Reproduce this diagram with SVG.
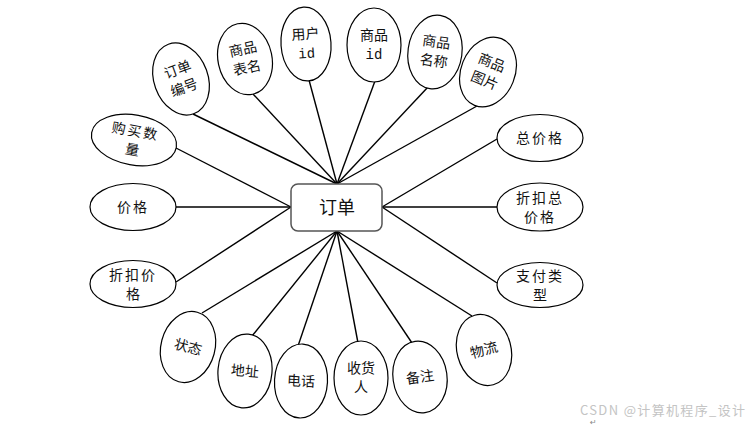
<svg xmlns="http://www.w3.org/2000/svg" width="751" height="426" viewBox="0 0 751 426">
<style>
.e{fill:#fff;stroke:#000;stroke-width:1.2}
.t{font-family:"Noto Sans CJK SC","Noto Sans",sans-serif;font-size:14px;fill:#111;text-anchor:middle}
.s{letter-spacing:2px}
.m{font-family:"Liberation Mono",monospace;font-size:14px;fill:#111;text-anchor:middle}
.c line{stroke:#000;stroke-width:1.4}
</style>
<rect width="751" height="426" fill="#fff"/>
<g class="c" id="connectors">
<line x1="193" y1="114" x2="337" y2="184"/>
<line x1="253" y1="94" x2="337" y2="184"/>
<line x1="309" y1="80" x2="337" y2="184"/>
<line x1="375" y1="81" x2="337" y2="184"/>
<line x1="428" y1="87" x2="337" y2="184"/>
<line x1="477" y1="106" x2="337" y2="184"/>
<line x1="176" y1="148" x2="291" y2="207"/>
<line x1="176" y1="207" x2="291" y2="207"/>
<line x1="176" y1="282" x2="291" y2="207"/>
<line x1="202" y1="313" x2="337" y2="231"/>
<line x1="252" y1="336" x2="337" y2="231"/>
<line x1="298" y1="346" x2="337" y2="231"/>
<line x1="358" y1="343" x2="337" y2="231"/>
<line x1="412" y1="343" x2="337" y2="231"/>
<line x1="472" y1="316" x2="337" y2="231"/>
<line x1="497" y1="139" x2="382" y2="207"/>
<line x1="497" y1="207" x2="382" y2="207"/>
<line x1="497" y1="283" x2="382" y2="207"/>
</g>
<g id="center">
<rect x="291" y="184" width="91" height="47" rx="7" fill="#fff" stroke="#555" stroke-width="1.5"/>
<text x="337" y="214" font-family="'Noto Sans CJK SC',sans-serif" font-size="18" text-anchor="middle" fill="#111">订单</text>
</g>
<g id="n1" transform="translate(181,79) rotate(-20)"><ellipse class="e" rx="27" ry="37"/><text class="t" y="-5">订单</text><text class="t" y="14">编号</text></g>
<g id="n2" transform="translate(245,59) rotate(-12)"><ellipse class="e" rx="27" ry="36"/><text class="t" y="-5">商品</text><text class="t" y="14">表名</text></g>
<g id="n3" transform="translate(306,44) rotate(-4)"><ellipse class="e" rx="25" ry="37"/><text class="t" y="-5">用户</text><text class="m" y="14">id</text></g>
<g id="n4" transform="translate(374,45)"><ellipse class="e" rx="27" ry="37"/><text class="t" y="-5">商品</text><text class="m" y="14">id</text></g>
<g id="n5" transform="translate(435,52) rotate(8)"><ellipse class="e" rx="27" ry="37"/><text class="t" y="-5">商品</text><text class="t" y="14">名称</text></g>
<g id="n6" transform="translate(488,72) rotate(22)"><ellipse class="e" rx="27" ry="36"/><text class="t" y="-5">商品</text><text class="t" y="14">图片</text></g>
<g id="n7" transform="translate(134,140) rotate(10)"><ellipse class="e" rx="43" ry="25"/><text class="t s" y="-4">购买数</text><text class="t" y="15">量</text></g>
<g id="n8" transform="translate(133,207)"><ellipse class="e" rx="43" ry="23.5"/><text class="t s" y="5">价格</text></g>
<g id="n9" transform="translate(133,284)"><ellipse class="e" rx="43" ry="23.5"/><text class="t s" y="-4">折扣价</text><text class="t" y="15">格</text></g>
<g id="n10" transform="translate(188,347) rotate(15)"><ellipse class="e" rx="27" ry="36"/><text class="t" y="5">状态</text></g>
<g id="n11" transform="translate(245,371) rotate(5)"><ellipse class="e" rx="27" ry="37"/><text class="t" y="5">地址</text></g>
<g id="n12" transform="translate(301,381) rotate(3)"><ellipse class="e" rx="26.5" ry="37"/><text class="t" y="5">电话</text></g>
<g id="n13" transform="translate(361,378)"><ellipse class="e" rx="27" ry="37"/><text class="t" y="-5">收货</text><text class="t" y="14">人</text></g>
<g id="n14" transform="translate(420,377) rotate(-8)"><ellipse class="e" rx="27" ry="36"/><text class="t" y="5">备注</text></g>
<g id="n15" transform="translate(484,350) rotate(-15)"><ellipse class="e" rx="27" ry="36"/><text class="t" y="5">物流</text></g>
<g id="n16" transform="translate(540,138)"><ellipse class="e" rx="43" ry="23.5"/><text class="t s" y="5">总价格</text></g>
<g id="n17" transform="translate(540,207)"><ellipse class="e" rx="43" ry="24"/><text class="t s" y="-4">折扣总</text><text class="t s" y="15">价格</text></g>
<g id="n18" transform="translate(540,285)"><ellipse class="e" rx="43" ry="22.5"/><text class="t s" y="-4">支付类</text><text class="t" y="15">型</text></g>
<g id="watermark">
<text x="580" y="415" font-family="'Noto Sans CJK SC',sans-serif" font-size="13" fill="#c4c4c4" textLength="165">CSDN @计算机程序_设计</text>
<text x="590" y="425" font-family="'DejaVu Sans',sans-serif" font-size="8" fill="#888">↵</text>
</g>
</svg>
